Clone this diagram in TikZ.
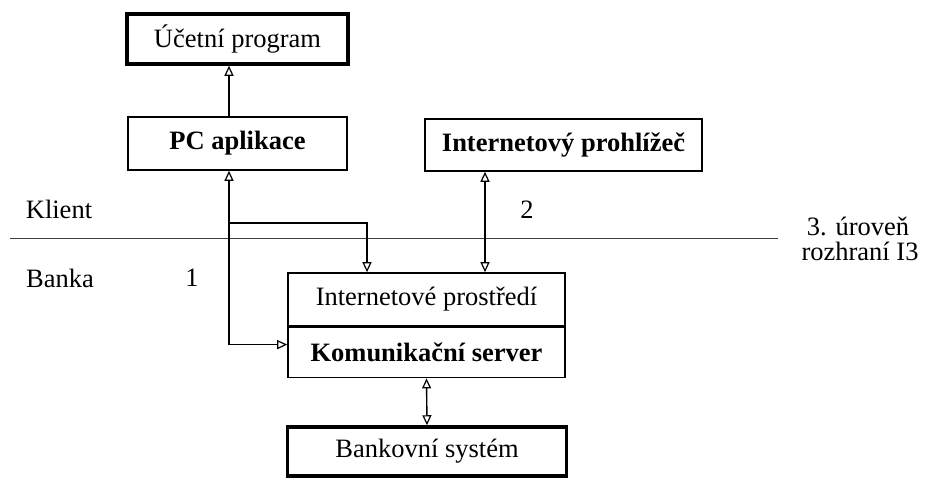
\documentclass[tikz,border=0pt]{standalone}
\usepackage{fontspec}
\setmainfont{Liberation Serif}
\usetikzlibrary{arrows.meta,calc}
\begin{document}
\begin{tikzpicture}[x=1pt,y=-1pt,
  txt/.style={font=\fontsize{26.5}{30}\selectfont, inner sep=0pt},
  box/.style={txt, draw, line width=1.6pt},
  heavybox/.style={box, line width=3.5pt},
  tip/.style={-{Triangle[open,length=10pt,width=9pt,line width=1.2pt]}},
  both/.style={{Triangle[open,length=10pt,width=9pt,line width=1.2pt]}-{Triangle[open,length=10pt,width=9pt,line width=1.2pt]}},
  link/.style={line width=1.4pt}]
\useasboundingbox (0,0) rectangle (937,477);

% boxes
\node[heavybox, minimum width=221pt, minimum height=50pt] (ucet) at (237.5,39) {Účetní program};
\node[box, minimum width=219pt, minimum height=53pt] (pc) at (237.5,143.5) {\textbf{PC aplikace}};
\node[box, minimum width=277pt, minimum height=52pt] (prohl) at (563.5,145) {\textbf{Internetový prohlížeč}};
\node[box, minimum width=277pt, minimum height=53pt] (inet) at (426.5,299.5) {Internetové prostředí};
\node[box, minimum width=277pt, minimum height=50pt, anchor=north] (kom) at (inet.south) {\textbf{Komunikační server}};
\node[heavybox, minimum width=279pt, minimum height=49pt] (bank) at (427,451.5) {Bankovní systém};

% client / bank boundary
\coordinate (sepL) at (10,238);
\coordinate (sepR) at (778,238);
\draw[line width=1pt, black!75] (sepL) -- (sepR);

% labels
\node[txt] (klient) at (59,209) {Klient};
\node[txt] (banka) at (60,278) {Banka};
\node[txt] (one) at (192,278) {1};
\node[txt] (two) at (527,210) {2};
\node[txt] (lvl) at (858,226) {3. úroveň};
\node[txt] (iface) at (860,251) {rozhraní I3};

% connectors
\coordinate (split) at (229,223);
\coordinate (komin) at ([yshift=8pt]kom.west);
\coordinate (drop) at ([xshift=-59.5pt]inet.north);
\coordinate (web) at (485,0);
\draw[link, tip] (split |- pc.north) -- (split |- ucet.south);
\draw[link, tip] (split) -- (split |- pc.south);
\draw[link, tip] (split) |- (komin);
\draw[link, tip] (split) -| (drop);
\draw[link, both] (web |- prohl.south) -- (web |- inet.north);
\draw[link, both] (kom.south) -- (bank.north);
\end{tikzpicture}
\end{document}
